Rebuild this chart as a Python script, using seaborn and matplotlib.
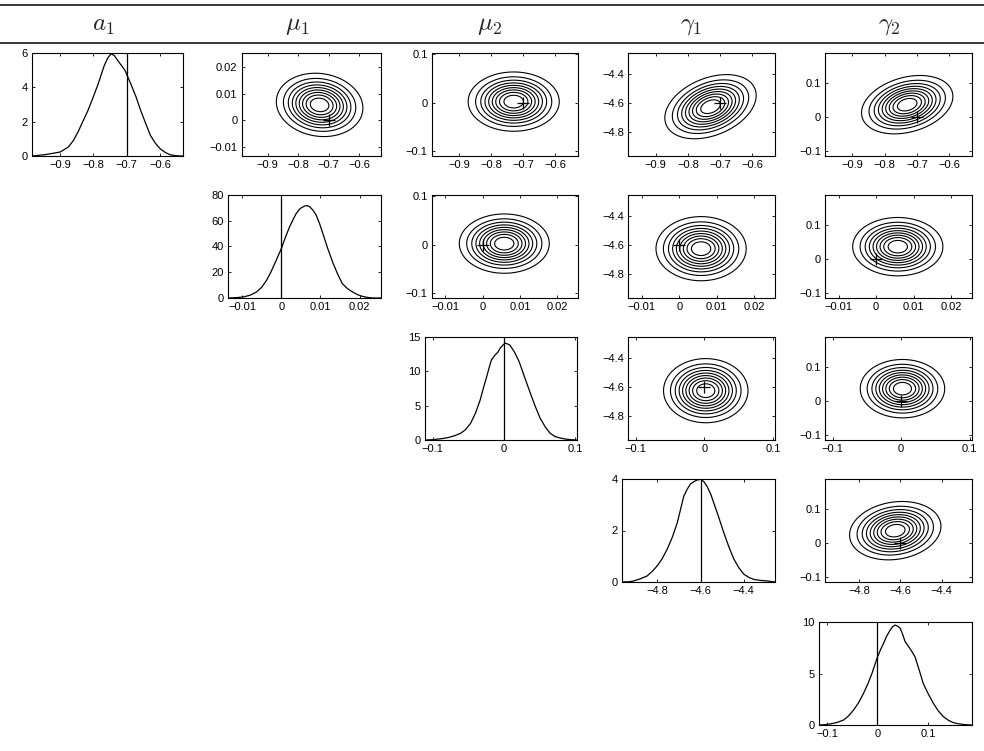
import numpy as np
import matplotlib
matplotlib.use("Agg")
import matplotlib.pyplot as plt
from matplotlib.lines import Line2D
import seaborn as sns

# ---- parameters of the model -------------------------------------------
titles = [r"$a_1$", r"$\mu_1$", r"$\mu_2$", r"$\gamma_1$", r"$\gamma_2$"]
true_values = [-0.7, 0.0, 0.0, -4.6, 0.0]
param_ranges = [(-0.985, -0.53), (-0.0136, 0.0255), (-0.111, 0.103),
                (-4.965, -4.255), (-0.116, 0.187)]
param_ticks = [[-0.9, -0.8, -0.7, -0.6], [-0.01, 0, 0.01, 0.02],
               [-0.1, 0, 0.1], [-4.8, -4.6, -4.4], [-0.1, 0, 0.1]]
density_yticks = [[0, 2, 4, 6], [0, 20, 40, 60, 80], [0, 5, 10, 15],
                  [0, 2, 4], [0, 5, 10]]

# ---- marginal posterior densities ----------------------------------------
a1_x = [-0.985, -0.944, -0.9, -0.875, -0.86, -0.846, -0.816, -0.8, -0.787,
        -0.767, -0.757, -0.747, -0.737, -0.727, -0.705, -0.688, -0.672, -0.658,
        -0.643, -0.629, -0.614, -0.6, -0.585, -0.571, -0.556, -0.541, -0.53]
a1_pdf = [0.0, 0.08, 0.23, 0.52, 0.9, 1.40, 2.66, 3.45, 4.12, 5.28, 5.70,
          5.96, 5.85, 5.57, 4.99, 4.22, 3.45, 2.66, 1.9, 1.21, 0.75, 0.43,
          0.22, 0.08, 0.03, 0.0, 0.0]

mu1_x = [-0.0136, -0.0115, -0.00975, -0.008, -0.00635, -0.005, -0.0038,
         -0.0028, -0.0017, -0.0008, 0.0, 0.001, 0.0021, 0.003, 0.0038, 0.0048,
         0.0059, 0.0066, 0.0072, 0.008, 0.0089, 0.0098, 0.0106, 0.0118, 0.0131,
         0.0144, 0.0156, 0.0169, 0.0182, 0.0195, 0.0207, 0.022, 0.0233, 0.0255]
mu1_pdf = [0.0, 0.3, 0.8, 2.2, 4.7, 8.5, 13.8, 19.5, 26.8, 33.0, 38.5, 47.0,
           55.3, 61.0, 65.7, 69.5, 71.4, 71.8, 71.0, 68.5, 64.4, 57.5, 50.2,
           39.0, 28.0, 18.5, 11.2, 7.3, 4.7, 2.6, 1.3, 0.5, 0.0, 0.0]

mu2_x = [-0.111, -0.103, -0.0953, -0.087, -0.079, -0.07, -0.061, -0.054,
         -0.047, -0.04, -0.0334, -0.029, -0.0242, -0.02, -0.0173, -0.013,
         -0.0083, -0.005, -0.0014, 0.0018, 0.005, 0.0087, 0.015, 0.0216, 0.026,
         0.0308, 0.0377, 0.0446, 0.051, 0.0583, 0.065, 0.0721, 0.079, 0.086,
         0.093, 0.103]
mu2_pdf = [0.0, 0.03, 0.1, 0.2, 0.34, 0.6, 0.97, 1.5, 2.4, 3.9, 5.8, 7.5, 9.2,
           10.8, 11.7, 12.3, 12.8, 13.4, 13.8, 14.1, 14.0, 13.8, 12.8, 11.4,
           10.1, 8.7, 6.7, 4.8, 3.2, 1.9, 1.0, 0.5, 0.3, 0.15, 0.05, 0.0]

gamma1_x = [-4.965, -4.93, -4.91, -4.88, -4.848, -4.825, -4.801, -4.778,
            -4.755, -4.73, -4.708, -4.693, -4.678, -4.662, -4.646, -4.63,
            -4.616, -4.597, -4.583, -4.569, -4.553, -4.538, -4.515, -4.492,
            -4.468, -4.445, -4.422, -4.399, -4.376, -4.353, -4.32, -4.29,
            -4.255]
gamma1_pdf = [0.0, 0.01, 0.04, 0.12, 0.23, 0.4, 0.62, 0.9, 1.26, 1.75, 2.29,
              2.8, 3.32, 3.6, 3.81, 3.9, 3.96, 3.99, 3.88, 3.70, 3.42, 3.06,
              2.5, 1.91, 1.35, 0.88, 0.55, 0.30, 0.18, 0.10, 0.06, 0.04, 0.0]

gamma2_x = [-0.116, -0.105, -0.0937, -0.08, -0.0673, -0.057, -0.0475, -0.037,
            -0.0277, -0.019, -0.011, -0.0055, 0.0, 0.006, 0.0119, 0.018, 0.025,
            0.030, 0.035, 0.040, 0.045, 0.050, 0.0548, 0.0598, 0.0648, 0.070,
            0.0747, 0.083, 0.0911, 0.101, 0.111, 0.121, 0.131, 0.141, 0.1505,
            0.16, 0.170, 0.178, 0.187]
gamma2_pdf = [0.0, 0.03, 0.1, 0.25, 0.48, 0.9, 1.45, 2.2, 3.07, 4.0, 5.0, 5.8,
              6.6, 7.3, 7.9, 8.6, 9.2, 9.55, 9.7, 9.6, 9.4, 8.8, 8.1, 7.75,
              7.4, 7.0, 6.6, 5.3, 4.0, 3.0, 2.1, 1.35, 0.8, 0.45, 0.23, 0.12,
              0.06, 0.02, 0.0]

density_x = [a1_x, mu1_x, mu2_x, gamma1_x, gamma2_x]
density_y = [a1_pdf, mu1_pdf, mu2_pdf, gamma1_pdf, gamma2_pdf]

# ---- joint posterior summary (for the pairwise contour panels) -----------
post_mean = [-0.73, 0.0058, 0.002, -4.625, 0.035]
post_sd = [0.066, 0.0056, 0.0287, 0.103, 0.040]
post_corr = [[1.0, -0.1, 0.0, 0.35, 0.28],
             [-0.1, 1.0, 0.0, 0.0, 0.0],
             [0.0, 0.0, 1.0, 0.0, 0.0],
             [0.35, 0.0, 0.0, 1.0, 0.15],
             [0.28, 0.0, 0.0, 0.15, 1.0]]
contour_levels = [0.1, 0.2, 0.3, 0.4, 0.5, 0.6, 0.7, 0.8, 0.9]

# ---- styling -------------------------------------------------------------
sns.set_style("ticks")
plt.rcParams.update({
    "font.family": ["Liberation Sans", "DejaVu Sans"],
    "mathtext.fontset": "cm",
    "axes.linewidth": 0.8,
    "axes.edgecolor": "black",
})

W, H = 984, 751
fig = plt.figure(figsize=(W / 100, H / 100), dpi=100)

# axes boxes in pixels: (left, right) per row/column, (top, bottom) per row
row_tb = [(53, 156), (195, 298), (337, 440), (479, 582), (622, 725)]
density_lr = [(31.7, 183.3), (228.3, 381), (425, 577), (621.7, 775), (819, 971.7)]
pair_lr = [None, (241.7, 380.7), (431.7, 578), (628.3, 775), (825, 971.7)]


def add_box(lr, tb):
    l, r = lr
    t, b = tb
    return fig.add_axes([l / W, 1 - b / H, (r - l) / W, (b - t) / H])


def fmt(v):
    s = "{:g}".format(v)
    return s.replace("-", "\u2212")


def style(ax):
    ax.tick_params(direction="in", top=True, right=True, length=2.5,
                   width=0.6, labelsize=8, pad=3, colors="black")
    for sp in ax.spines.values():
        sp.set_visible(True)
        sp.set_linewidth(0.8)


n = len(titles)
for i in range(n):
    # marginal density on the diagonal
    ax = add_box(density_lr[i], row_tb[i])
    sns.lineplot(x=density_x[i], y=density_y[i], ax=ax, color="black",
                 linewidth=0.9)
    ymax = density_yticks[i][-1]
    ax.plot([true_values[i], true_values[i]], [0, ymax], color="black",
            linewidth=0.9)
    ax.set_xlim(*param_ranges[i])
    ax.set_ylim(0, ymax)
    ax.set_xticks(param_ticks[i])
    ax.set_xticklabels([fmt(v) for v in param_ticks[i]])
    ax.set_yticks(density_yticks[i])
    ax.set_yticklabels([fmt(v) for v in density_yticks[i]])
    style(ax)

    # pairwise contours to the right of the diagonal
    for j in range(i + 1, n):
        ax = add_box(pair_lr[j], row_tb[i])
        gx = np.linspace(*param_ranges[i], 240)
        gy = np.linspace(*param_ranges[j], 240)
        X, Y = np.meshgrid(gx, gy)
        zx = (X - post_mean[i]) / post_sd[i]
        zy = (Y - post_mean[j]) / post_sd[j]
        rho = post_corr[i][j]
        Z = np.exp(-0.5 * (zx ** 2 - 2 * rho * zx * zy + zy ** 2) / (1 - rho ** 2))
        ax.contour(X, Y, Z, levels=contour_levels, colors="black",
                   linewidths=0.8)
        ax.plot([true_values[i]], [true_values[j]], marker="+", color="black",
                markersize=9, markeredgewidth=0.9, linestyle="none")
        ax.set_xlim(*param_ranges[i])
        ax.set_ylim(*param_ranges[j])
        ax.set_xticks(param_ticks[i])
        ax.set_xticklabels([fmt(v) for v in param_ticks[i]])
        ax.set_yticks(param_ticks[j])
        ax.set_yticklabels([fmt(v) for v in param_ticks[j]])
        style(ax)

# table-style header
for yp in (5, 42.5):
    fig.add_artist(Line2D([0, 1], [1 - yp / H, 1 - yp / H],
                          transform=fig.transFigure, color="black",
                          linewidth=1.1))
title_x = [103, 297, 489, 691, 889]
for t, xp in zip(titles, title_x):
    fig.text(xp / W, 1 - 25 / H, t, ha="center", va="center", fontsize=18)

fig.savefig("out.png", dpi=100)
